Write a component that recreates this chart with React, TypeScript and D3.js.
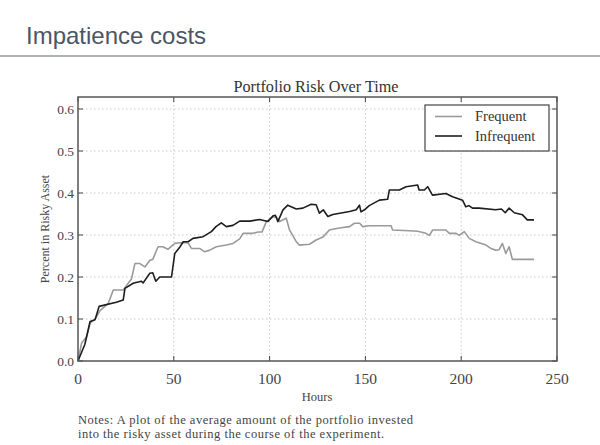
import { line, scaleLinear } from "d3";
import type { ReactElement } from "react";

// Hours / share of portfolio in the risky asset
const frequentHours = [
  0, 1.9, 4.5, 6.3, 8.9, 11.5, 15.8, 18.4, 23.6, 26.2, 27.9, 29.7, 32.3, 34.9, 37.5, 39, 41.8, 44.3, 46.9, 50.5,
  54.9, 57.5, 59.2, 63.5, 66.1, 68.7, 72.2, 77.4, 80.9, 84.4, 86.1, 91.3, 93.9, 96, 98.3, 101.7, 103.5, 105.2,
  108.7, 110.4, 113.9, 115.6, 120.8, 124.3, 127.8, 131.2, 135.6, 141.7, 144.3, 147, 148.6, 152, 160.8, 163.4,
  164.2, 172.9, 177.3, 181.6, 183.4, 185.1, 192, 193.8, 197.3, 199, 201.6, 204.2, 207.7, 212.9, 215.5, 218,
  219.8, 221.5, 223.3, 225, 226.7, 238,
];
const frequentValues = [
  0, 0.043, 0.058, 0.09, 0.1, 0.12, 0.137, 0.169, 0.169, 0.185, 0.195, 0.232, 0.232, 0.224, 0.24, 0.242, 0.272,
  0.272, 0.266, 0.28, 0.282, 0.281, 0.268, 0.268, 0.26, 0.264, 0.272, 0.276, 0.28, 0.291, 0.304, 0.304, 0.307,
  0.307, 0.332, 0.343, 0.343, 0.332, 0.34, 0.312, 0.284, 0.276, 0.278, 0.288, 0.295, 0.312, 0.316, 0.32, 0.328,
  0.328, 0.32, 0.322, 0.322, 0.322, 0.312, 0.31, 0.309, 0.304, 0.299, 0.312, 0.312, 0.304, 0.304, 0.299, 0.308,
  0.292, 0.284, 0.276, 0.268, 0.264, 0.265, 0.28, 0.256, 0.272, 0.242, 0.242,
];

const infrequentHours = [
  0, 3.6, 6.3, 8.9, 11, 20, 23.6, 24.5, 28.8, 33, 34, 37.5, 39, 40.6, 42.7, 48.8, 50.5, 53, 54.9, 57.5, 60,
  65.3, 69.6, 72, 74.8, 77.4, 80.9, 84.4, 89.6, 94.8, 99.1, 101.7, 103, 104.3, 107, 109.5, 113.9, 117.4, 121.7,
  124.3, 126, 128, 130.4, 133, 141.7, 145.2, 146.9, 147.7, 149.5, 152, 157.3, 161.6, 162.5, 167.7, 171.2, 177.3,
  178, 180.8, 182.5, 185, 192, 195.5, 200.7, 202.4, 204, 205.9, 209.4, 218, 221, 223, 225, 227.7, 232, 234.5, 238,
];
const infrequentValues = [
  0, 0.04, 0.094, 0.098, 0.13, 0.14, 0.145, 0.173, 0.185, 0.19, 0.186, 0.209, 0.21, 0.19, 0.2, 0.2, 0.256, 0.27,
  0.284, 0.284, 0.292, 0.296, 0.308, 0.32, 0.329, 0.32, 0.323, 0.333, 0.333, 0.337, 0.332, 0.345, 0.347, 0.332,
  0.36, 0.371, 0.362, 0.364, 0.373, 0.372, 0.352, 0.36, 0.344, 0.349, 0.356, 0.36, 0.371, 0.355, 0.36, 0.37,
  0.383, 0.385, 0.407, 0.407, 0.415, 0.419, 0.407, 0.407, 0.415, 0.395, 0.399, 0.391, 0.383, 0.367, 0.37, 0.364,
  0.364, 0.36, 0.362, 0.353, 0.364, 0.353, 0.348, 0.336, 0.336,
];

const xTicks = [0, 50, 100, 150, 200, 250];
const yTicks = [0, 0.1, 0.2, 0.3, 0.4, 0.5, 0.6];
const seriesNames = ["Frequent", "Infrequent"];
const seriesColors = ["#9a9a9a", "#1e1e1e"];
const noteLines = [
  "Notes: A plot of the average amount of the portfolio invested",
  "into the risky asset during the course of the experiment.",
];

const serif = "'Liberation Serif', serif";

type Pt = Readonly<{ h: number; v: number }>;

const toPoints = (hours: number[], values: number[]): Pt[] => hours.map((h, i) => ({ h, v: values[i] }));

export default function App(): ReactElement {
  const width = 600;
  const height = 445;
  const plot = { left: 78, right: 557, top: 97, bottom: 361 } as const;

  const xScale = scaleLinear().domain([0, 250]).range([plot.left, plot.right]);
  const yScale = scaleLinear().domain([0, 0.6286]).range([plot.bottom, plot.top]);

  const lineGen = line<Pt>()
    .x((d) => xScale(d.h))
    .y((d) => yScale(d.v));

  const series = [toPoints(frequentHours, frequentValues), toPoints(infrequentHours, infrequentValues)];

  return (
    <svg
      width={width}
      height={height}
      viewBox={`0 0 ${width} ${height}`}
      style={{ position: "absolute", left: 0, top: 0, background: "#fff" }}
    >
      <rect x={0} y={0} width={width} height={height} fill="#ffffff" />
      <text x={26} y={44} fontFamily="'Liberation Sans', Arial, sans-serif" fontSize={24} fill="#4b5565">
        Impatience costs
      </text>
      <line x1={0} x2={width} y1={56} y2={56} stroke="#b0b0b0" strokeWidth={2} />

      <text x={316} y={92} textAnchor="middle" fontFamily={serif} fontSize={16.2} fill="#333">
        Portfolio Risk Over Time
      </text>

      {yTicks.map((t) => (
        <g key={`y-${t}`}>
          {t > 0 && (
            <line x1={plot.left} x2={plot.right} y1={yScale(t)} y2={yScale(t)} stroke="#c8c8c8" strokeDasharray="1.5 2.5" />
          )}
          <line x1={plot.left} x2={plot.left + 5} y1={yScale(t)} y2={yScale(t)} stroke="#444" />
          <line x1={plot.right - 5} x2={plot.right} y1={yScale(t)} y2={yScale(t)} stroke="#444" />
          <text x={plot.left - 4} y={yScale(t) + 4.5} textAnchor="end" fontFamily={serif} fontSize={13.5} fill="#444">
            {t.toFixed(1)}
          </text>
        </g>
      ))}

      {xTicks.map((t) => (
        <g key={`x-${t}`}>
          {t > 0 && t < 250 && (
            <line x1={xScale(t)} x2={xScale(t)} y1={plot.top} y2={plot.bottom} stroke="#c8c8c8" strokeDasharray="1.5 2.5" />
          )}
          <line x1={xScale(t)} x2={xScale(t)} y1={plot.bottom} y2={plot.bottom - 5} stroke="#444" />
          <line x1={xScale(t)} x2={xScale(t)} y1={plot.top} y2={plot.top + 5} stroke="#444" />
          <text x={xScale(t)} y={384} textAnchor="middle" fontFamily={serif} fontSize={15.5} fill="#444">
            {t}
          </text>
        </g>
      ))}

      <text x={317} y={401} textAnchor="middle" fontFamily={serif} fontSize={12.5} fill="#444">
        Hours
      </text>
      <text
        transform={`translate(49,${(plot.top + plot.bottom) / 2}) rotate(-90)`}
        textAnchor="middle"
        fontFamily={serif}
        fontSize={12}
        fill="#444"
      >
        Percent in Risky Asset
      </text>

      {series.map((pts, i) => (
        <path
          key={seriesNames[i]}
          d={lineGen(pts) ?? ""}
          fill="none"
          stroke={seriesColors[i]}
          strokeWidth={1.6}
          strokeLinejoin="round"
        />
      ))}

      <rect
        x={plot.left}
        y={plot.top}
        width={plot.right - plot.left}
        height={plot.bottom - plot.top}
        fill="none"
        stroke="#555"
        strokeWidth={1.5}
      />

      <rect x={425} y={105} width={124} height={46} fill="#fff" stroke="#444" strokeWidth={1.2} />
      {seriesNames.map((name, i) => (
        <g key={`leg-${name}`}>
          <line x1={435} x2={462} y1={116.5 + i * 19.5} y2={116.5 + i * 19.5} stroke={seriesColors[i]} strokeWidth={1.6} />
          <text x={475} y={121 + i * 19.5} fontFamily={serif} fontSize={14.5} fill="#333">
            {name}
          </text>
        </g>
      ))}

      {noteLines.map((txt, i) => (
        <text
          key={`note-${i}`}
          x={78}
          y={424 + i * 14}
          fontFamily={serif}
          fontSize={12.5}
          fill="#444"
          textLength={i === 0 ? 335 : 306}
          lengthAdjust="spacing"
        >
          {txt}
        </text>
      ))}
    </svg>
  );
}
